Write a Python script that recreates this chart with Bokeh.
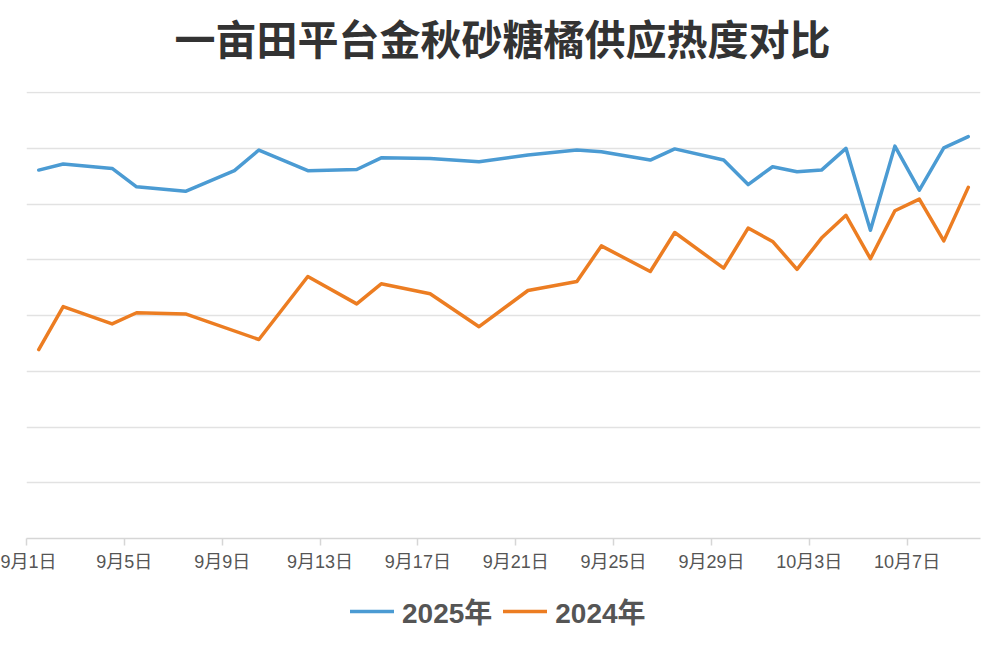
import pandas as pd
from bokeh.plotting import figure
from bokeh.layouts import column
from bokeh.models import FixedTicker, Legend, LegendItem, Range1d, Label
from bokeh.embed import file_html
from bokeh.resources import INLINE

# ---- data ----
dates_2025 = ["09-01", "09-02", "09-04", "09-05", "09-07", "09-09", "09-10", "09-12",
              "09-14", "09-15", "09-17", "09-19", "09-21", "09-23", "09-24", "09-26",
              "09-27", "09-29", "09-30", "10-01", "10-02", "10-03", "10-04", "10-05",
              "10-06", "10-07", "10-08", "10-09"]
values_2025 = [66.1, 67.2, 66.4, 63.1, 62.3, 66.0, 69.7, 66.0,
               66.2, 68.3, 68.2, 67.6, 68.8, 69.7, 69.4, 67.9,
               69.9, 67.9, 63.5, 66.7, 65.8, 66.1, 70.0, 55.3,
               70.4, 62.5, 70.1, 72.1]

dates_2024 = ["09-01", "09-02", "09-04", "09-05", "09-07", "09-10", "09-12",
              "09-14", "09-15", "09-17", "09-19", "09-21", "09-23", "09-24", "09-26",
              "09-27", "09-29", "09-30", "10-01", "10-02", "10-03", "10-04", "10-05",
              "10-06", "10-07", "10-08", "10-09"]
values_2024 = [33.9, 41.6, 38.5, 40.5, 40.3, 35.7, 47.0,
               42.1, 45.7, 43.9, 38.0, 44.5, 46.1, 52.5, 47.9,
               54.9, 48.5, 55.7, 53.3, 48.3, 53.9, 58.0, 50.2,
               58.8, 60.9, 53.4, 63.0]

tick_dates = ["09-01", "09-05", "09-09", "09-13", "09-17", "09-21", "09-25",
              "09-29", "10-03", "10-07"]
tick_labels = ["9月1日", "9月5日", "9月9日", "9月13日", "9月17日", "9月21日", "9月25日",
               "9月29日", "10月3日", "10月7日"]

title_text = "一亩田平台金秋砂糖橘供应热度对比"
series_names = ["2025年", "2024年"]
colors = ["#4b9bd3", "#ec7d22"]

FONT = "'Liberation Sans', 'Noto Sans CJK SC', sans-serif"

# ---- helpers ----
def to_dt(md):
    return pd.Timestamp("2025-" + md)

def centers(mds):
    # each day is a category; points sit in the middle of the day
    return [to_dt(m) + pd.Timedelta(hours=12) for m in mds]

def ms(ts):
    return ts.value / 1e6

def strip(height, **kw):
    f = figure(width=984, height=height, output_backend="svg", toolbar_location=None,
               min_border_left=0, min_border_right=0, min_border_top=0,
               min_border_bottom=0, **kw)
    f.axis.visible = False
    f.grid.visible = False
    f.outline_line_color = None
    return f

x_start = to_dt("09-01")
x_end = to_dt("10-09") + pd.Timedelta(days=1)

# ---- title strip ----
tt = strip(86, x_range=Range1d(0, 984), y_range=Range1d(0, 86))
tt.add_layout(Label(x=491, y=50, text=title_text, text_align="center",
                    text_baseline="middle", text_font="Noto Sans CJK SC",
                    text_font_size="41px", text_font_style="bold",
                    text_color="#333333"))

# ---- main chart ----
p = figure(width=984, height=494, output_backend="svg", toolbar_location=None,
           x_axis_type="datetime",
           x_range=Range1d(x_start, x_end), y_range=Range1d(0, 80.2),
           min_border_left=26, min_border_right=4, min_border_top=5,
           min_border_bottom=42)

line_kw = dict(line_width=3.5, line_join="round", line_cap="round")
r1 = p.line(centers(dates_2025), values_2025, line_color=colors[0], **line_kw)
r2 = p.line(centers(dates_2024), values_2024, line_color=colors[1], **line_kw)

p.yaxis.visible = False
p.ygrid.ticker = FixedTicker(ticks=[0, 10, 20, 30, 40, 50, 60, 70, 80])
p.ygrid.grid_line_color = "#e2e2e2"
p.ygrid.grid_line_width = 1.5
p.xgrid.visible = False
p.outline_line_color = None

tick_ms = [ms(to_dt(d)) for d in tick_dates]
p.xaxis.ticker = FixedTicker(ticks=tick_ms)
p.xaxis.major_label_overrides = {t: lab for t, lab in zip(tick_ms, tick_labels)}
p.xaxis.minor_tick_line_color = None
p.xaxis.axis_line_color = "#d6d6d6"
p.xaxis.axis_line_width = 1.5
p.xaxis.major_tick_line_color = "#d6d6d6"
p.xaxis.major_tick_line_width = 1.5
p.xaxis.major_tick_in = 0
p.xaxis.major_tick_out = 7
p.xaxis.major_label_standoff = 6
p.xaxis.major_label_text_font = FONT
p.xaxis.major_label_text_font_size = "18px"
p.xaxis.major_label_text_color = "#555555"

# ---- legend strip below the chart (same series, kept out of its view) ----
lg = strip(66, x_axis_type="datetime",
           x_range=Range1d(x_start, x_end), y_range=Range1d(-2, -1))
k1 = lg.line(centers(dates_2025), values_2025, line_color=colors[0], **line_kw)
k2 = lg.line(centers(dates_2024), values_2024, line_color=colors[1], **line_kw)

legend = Legend(items=[LegendItem(label=series_names[0], renderers=[k1]),
                       LegendItem(label=series_names[1], renderers=[k2])],
                orientation="horizontal", location=(324, 15))
legend.border_line_color = None
legend.background_fill_alpha = 0
legend.label_text_font = FONT
legend.label_text_font_size = "28px"
legend.label_text_font_style = "bold"
legend.label_text_color = "#555555"
legend.glyph_width = 44
legend.glyph_height = 20
legend.label_standoff = 8
legend.spacing = 11
legend.margin = 0
legend.padding = 0
lg.add_layout(legend)

layout = column(tt, p, lg, spacing=0)
open("out.html", "w").write(file_html(layout, INLINE))
